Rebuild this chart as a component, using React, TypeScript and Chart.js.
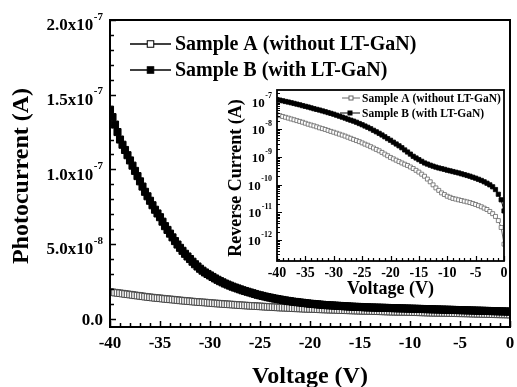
import React, { useEffect, useRef } from "react";
import { Chart, registerables } from "chart.js";

Chart.register(...registerables);

// ---------------- data ----------------
// Main plot voltage (0.25 V steps)
const mainVoltage = [
  -40, -39.75, -39.5, -39.25, -39, -38.75, -38.5, -38.25, -38, -37.75, -37.5, -37.25,
  -37, -36.75, -36.5, -36.25, -36, -35.75, -35.5, -35.25, -35, -34.75, -34.5, -34.25,
  -34, -33.75, -33.5, -33.25, -33, -32.75, -32.5, -32.25, -32, -31.75, -31.5, -31.25,
  -31, -30.75, -30.5, -30.25, -30, -29.75, -29.5, -29.25, -29, -28.75, -28.5, -28.25,
  -28, -27.75, -27.5, -27.25, -27, -26.75, -26.5, -26.25, -26, -25.75, -25.5, -25.25,
  -25, -24.75, -24.5, -24.25, -24, -23.75, -23.5, -23.25, -23, -22.75, -22.5, -22.25,
  -22, -21.75, -21.5, -21.25, -21, -20.75, -20.5, -20.25, -20, -19.75, -19.5, -19.25,
  -19, -18.75, -18.5, -18.25, -18, -17.75, -17.5, -17.25, -17, -16.75, -16.5, -16.25,
  -16, -15.75, -15.5, -15.25, -15, -14.75, -14.5, -14.25, -14, -13.75, -13.5, -13.25,
  -13, -12.75, -12.5, -12.25, -12, -11.75, -11.5, -11.25, -11, -10.75, -10.5, -10.25,
  -10, -9.75, -9.5, -9.25, -9, -8.75, -8.5, -8.25, -8, -7.75, -7.5, -7.25,
  -7, -6.75, -6.5, -6.25, -6, -5.75, -5.5, -5.25, -5, -4.75, -4.5, -4.25,
  -4, -3.75, -3.5, -3.25, -3, -2.75, -2.5, -2.25, -2, -1.75, -1.5, -1.25,
  -1, -0.75, -0.5, -0.25, 0,
];

// Photocurrent (A), main plot
const photoA = [
  1.80e-8, 1.775e-8, 1.75e-8, 1.73e-8, 1.71e-8, 1.685e-8, 1.66e-8, 1.64e-8,
  1.62e-8, 1.595e-8, 1.57e-8, 1.55e-8, 1.53e-8, 1.505e-8, 1.48e-8, 1.46e-8,
  1.44e-8, 1.42e-8, 1.40e-8, 1.385e-8, 1.37e-8, 1.35e-8, 1.33e-8, 1.315e-8,
  1.30e-8, 1.285e-8, 1.27e-8, 1.25e-8, 1.23e-8, 1.215e-8, 1.20e-8, 1.185e-8,
  1.17e-8, 1.155e-8, 1.14e-8, 1.125e-8, 1.11e-8, 1.10e-8, 1.09e-8, 1.075e-8,
  1.06e-8, 1.045e-8, 1.03e-8, 1.02e-8, 1.01e-8, 0.995e-8, 0.98e-8, 0.97e-8,
  0.96e-8, 0.95e-8, 0.94e-8, 0.925e-8, 0.91e-8, 0.90e-8, 0.89e-8, 0.88e-8,
  0.87e-8, 0.86e-8, 0.85e-8, 0.84e-8, 0.83e-8, 0.82e-8, 0.81e-8, 0.80e-8,
  0.79e-8, 0.78e-8, 0.77e-8, 0.76e-8, 0.75e-8, 0.745e-8, 0.74e-8, 0.73e-8,
  0.72e-8, 0.71e-8, 0.70e-8, 0.695e-8, 0.69e-8, 0.68e-8, 0.67e-8, 0.665e-8,
  0.66e-8, 0.655e-8, 0.65e-8, 0.64e-8, 0.63e-8, 0.625e-8, 0.62e-8, 0.615e-8,
  0.61e-8, 0.605e-8, 0.60e-8, 0.59e-8, 0.58e-8, 0.575e-8, 0.57e-8, 0.565e-8,
  0.56e-8, 0.555e-8, 0.55e-8, 0.545e-8, 0.54e-8, 0.535e-8, 0.53e-8, 0.525e-8,
  0.52e-8, 0.515e-8, 0.51e-8, 0.505e-8, 0.50e-8, 0.495e-8, 0.49e-8, 0.485e-8,
  0.48e-8, 0.475e-8, 0.47e-8, 0.467e-8, 0.465e-8, 0.462e-8, 0.46e-8, 0.455e-8,
  0.45e-8, 0.445e-8, 0.44e-8, 0.435e-8, 0.43e-8, 0.425e-8, 0.42e-8, 0.415e-8,
  0.41e-8, 0.405e-8, 0.40e-8, 0.397e-8, 0.395e-8, 0.392e-8, 0.39e-8, 0.385e-8,
  0.38e-8, 0.375e-8, 0.37e-8, 0.367e-8, 0.365e-8, 0.362e-8, 0.36e-8, 0.355e-8,
  0.35e-8, 0.345e-8, 0.34e-8, 0.335e-8, 0.33e-8, 0.325e-8, 0.32e-8, 0.315e-8,
  0.31e-8, 0.305e-8, 0.30e-8, 0.297e-8, 0.295e-8, 0.292e-8, 0.29e-8, 0.285e-8,
  0.28e-8,
];
const photoB = [
  14.0e-8, 13.5e-8, 13.0e-8, 12.5e-8, 12.0e-8, 11.65e-8, 11.3e-8, 10.95e-8,
  10.6e-8, 10.25e-8, 9.9e-8, 9.55e-8, 9.2e-8, 8.85e-8, 8.5e-8, 8.2e-8,
  7.9e-8, 7.6e-8, 7.3e-8, 7.05e-8, 6.8e-8, 6.5e-8, 6.2e-8, 5.95e-8,
  5.7e-8, 5.45e-8, 5.2e-8, 4.97e-8, 4.75e-8, 4.55e-8, 4.35e-8, 4.17e-8,
  4.0e-8, 3.82e-8, 3.65e-8, 3.5e-8, 3.35e-8, 3.22e-8, 3.1e-8, 3.0e-8,
  2.9e-8, 2.8e-8, 2.7e-8, 2.61e-8, 2.52e-8, 2.44e-8, 2.36e-8, 2.29e-8,
  2.22e-8, 2.15e-8, 2.09e-8, 2.03e-8, 1.97e-8, 1.91e-8, 1.86e-8, 1.81e-8,
  1.76e-8, 1.71e-8, 1.66e-8, 1.61e-8, 1.57e-8, 1.53e-8, 1.49e-8, 1.45e-8,
  1.42e-8, 1.38e-8, 1.35e-8, 1.32e-8, 1.29e-8, 1.26e-8, 1.23e-8, 1.20e-8,
  1.18e-8, 1.15e-8, 1.13e-8, 1.11e-8, 1.09e-8, 1.07e-8, 1.05e-8, 1.03e-8,
  1.01e-8, 0.995e-8, 0.98e-8, 0.965e-8, 0.95e-8, 0.935e-8, 0.92e-8, 0.91e-8,
  0.90e-8, 0.89e-8, 0.88e-8, 0.87e-8, 0.86e-8, 0.85e-8, 0.84e-8, 0.83e-8,
  0.82e-8, 0.81e-8, 0.80e-8, 0.795e-8, 0.79e-8, 0.78e-8, 0.77e-8, 0.765e-8,
  0.76e-8, 0.755e-8, 0.75e-8, 0.745e-8, 0.74e-8, 0.735e-8, 0.73e-8, 0.725e-8,
  0.72e-8, 0.715e-8, 0.71e-8, 0.705e-8, 0.70e-8, 0.695e-8, 0.69e-8, 0.685e-8,
  0.68e-8, 0.675e-8, 0.67e-8, 0.665e-8, 0.66e-8, 0.655e-8, 0.65e-8, 0.645e-8,
  0.64e-8, 0.635e-8, 0.63e-8, 0.625e-8, 0.62e-8, 0.615e-8, 0.61e-8, 0.605e-8,
  0.60e-8, 0.595e-8, 0.59e-8, 0.585e-8, 0.58e-8, 0.575e-8, 0.57e-8, 0.565e-8,
  0.56e-8, 0.555e-8, 0.55e-8, 0.545e-8, 0.54e-8, 0.535e-8, 0.53e-8, 0.525e-8,
  0.52e-8, 0.515e-8, 0.51e-8, 0.505e-8, 0.50e-8, 0.495e-8, 0.49e-8, 0.485e-8,
  0.48e-8,
];

// Inset voltage (0.5 V steps)
const insetVoltage = [
  -40, -39.5, -39, -38.5, -38, -37.5, -37, -36.5, -36, -35.5,
  -35, -34.5, -34, -33.5, -33, -32.5, -32, -31.5, -31, -30.5,
  -30, -29.5, -29, -28.5, -28, -27.5, -27, -26.5, -26, -25.5,
  -25, -24.5, -24, -23.5, -23, -22.5, -22, -21.5, -21, -20.5,
  -20, -19.5, -19, -18.5, -18, -17.5, -17, -16.5, -16, -15.5,
  -15, -14.5, -14, -13.5, -13, -12.5, -12, -11.5, -11, -10.5,
  -10, -9.5, -9, -8.5, -8, -7.5, -7, -6.5, -6, -5.5,
  -5, -4.5, -4, -3.5, -3, -2.5, -2, -1.5, -1, -0.5, 0,
];

// Reverse current (A), inset
const darkA = [
  3.31e-8, 3.09e-8, 2.88e-8, 2.69e-8, 2.51e-8, 2.34e-8, 2.19e-8, 2.04e-8, 1.91e-8, 1.78e-8,
  1.64e-8, 1.51e-8, 1.41e-8, 1.32e-8, 1.22e-8, 1.12e-8, 1.05e-8, 9.77e-9, 9.02e-9, 8.32e-9,
  7.76e-9, 7.16e-9, 6.61e-9, 6.10e-9, 5.62e-9, 5.13e-9, 4.68e-9, 4.27e-9, 3.89e-9, 3.55e-9,
  3.20e-9, 2.88e-9, 2.63e-9, 2.34e-9, 2.09e-9, 1.86e-9, 1.66e-9, 1.45e-9, 1.26e-9, 1.10e-9,
  9.55e-10, 8.51e-10, 7.59e-10, 6.76e-10, 6.03e-10, 5.43e-10, 4.90e-10, 4.32e-10, 3.80e-10, 3.27e-10,
  2.82e-10, 2.37e-10, 2.00e-10, 1.58e-10, 1.26e-10, 9.77e-11, 7.59e-11, 6.17e-11, 5.01e-11, 4.37e-11,
  3.80e-11, 3.47e-11, 3.16e-11, 2.99e-11, 2.82e-11, 2.66e-11, 2.51e-11, 2.37e-11, 2.24e-11, 2.07e-11,
  1.91e-11, 1.74e-11, 1.58e-11, 1.41e-11, 1.26e-11, 1.07e-11, 8.91e-12, 7.08e-12, 5.01e-12, 2.82e-12, 7.08e-13,
];
const darkB = [
  1.17e-7, 1.12e-7, 1.06e-7, 1.00e-7, 9.55e-8, 9.02e-8, 8.51e-8, 8.04e-8, 7.59e-8, 7.08e-8,
  6.68e-8, 6.31e-8, 5.89e-8, 5.50e-8, 5.19e-8, 4.90e-8, 4.57e-8, 4.27e-8, 3.98e-8, 3.72e-8,
  3.47e-8, 3.20e-8, 2.95e-8, 2.72e-8, 2.51e-8, 2.29e-8, 2.11e-8, 1.95e-8, 1.78e-8, 1.60e-8,
  1.45e-8, 1.30e-8, 1.17e-8, 1.04e-8, 9.12e-9, 8.04e-9, 7.08e-9, 6.17e-9, 5.31e-9, 4.57e-9,
  3.98e-9, 3.39e-9, 2.92e-9, 2.51e-9, 2.14e-9, 1.78e-9, 1.50e-9, 1.26e-9, 1.05e-9, 9.12e-10,
  7.94e-10, 6.92e-10, 6.03e-10, 5.50e-10, 5.01e-10, 4.62e-10, 4.27e-10, 3.98e-10, 3.76e-10, 3.55e-10,
  3.31e-10, 3.13e-10, 2.95e-10, 2.79e-10, 2.63e-10, 2.45e-10, 2.29e-10, 2.14e-10, 2.00e-10, 1.84e-10,
  1.70e-10, 1.55e-10, 1.41e-10, 1.26e-10, 1.12e-10, 9.77e-11, 8.32e-11, 6.61e-11, 4.47e-11, 2.82e-11, 1.12e-11,
];

const seriesNames = ["Sample A (without LT-GaN)", "Sample B (with LT-GaN)"];

const mainXTicks = [-40, -35, -30, -25, -20, -15, -10, -5, 0];
const mainXTickLabels = ["-40", "-35", "-30", "-25", "-20", "-15", "-10", "-5", "0"];
const mainYTicks = [0, 5e-8, 1e-7, 1.5e-7, 2e-7];
const mainYTickBase = ["0.0", "5.0x10", "1.0x10", "1.5x10", "2.0x10"];
const mainYTickExp = ["", "-8", "-7", "-7", "-7"];

const insetXTicks = [-40, -35, -30, -25, -20, -15, -10, -5, 0];
const insetXTickLabels = ["-40", "-35", "-30", "-25", "-20", "-15", "-10", "-5", "0"];
const insetYTicks = [1e-12, 1e-11, 1e-10, 1e-9, 1e-8, 1e-7];
const insetYTickExp = ["-12", "-11", "-10", "-9", "-8", "-7"];

const SERIF = '"Liberation Serif", "Times New Roman", serif';

// ---------------- helpers ----------------
function pts(xs: number[], ys: number[]) {
  return xs.map((x, i) => ({ x, y: ys[i] }));
}

function drawSci(
  ctx: CanvasRenderingContext2D,
  base: string,
  sup: string,
  xRight: number,
  baseline: number,
  baseFont: string,
  supFont: string,
  rise: number
) {
  ctx.font = baseFont;
  const wb = ctx.measureText(base).width;
  ctx.font = supFont;
  const ws = sup ? ctx.measureText(sup).width + 0.5 : 0;
  const x0 = xRight - wb - ws;
  ctx.textAlign = "left";
  ctx.textBaseline = "alphabetic";
  ctx.font = baseFont;
  ctx.fillText(base, x0, baseline);
  if (sup) {
    ctx.font = supFont;
    ctx.fillText(sup, x0 + wb + 0.5, baseline - rise);
  }
}

function drawLegendRow(
  ctx: CanvasRenderingContext2D,
  y: number,
  x1: number,
  x2: number,
  sq: number,
  filled: boolean,
  text: string,
  tx: number,
  font: string,
  lineColor: string,
  lw: number
) {
  ctx.strokeStyle = lineColor;
  ctx.lineWidth = lw;
  ctx.beginPath();
  ctx.moveTo(x1, y);
  ctx.lineTo(x2, y);
  ctx.stroke();
  const cx = (x1 + x2) / 2;
  ctx.fillStyle = filled ? "#000" : "#fff";
  ctx.fillRect(cx - sq / 2, y - sq / 2, sq, sq);
  ctx.strokeStyle = filled ? "#000" : lineColor;
  ctx.lineWidth = 1;
  ctx.strokeRect(cx - sq / 2, y - sq / 2, sq, sq);
  ctx.fillStyle = "#000";
  ctx.font = font;
  ctx.textAlign = "left";
  ctx.textBaseline = "middle";
  ctx.fillText(text, tx, y + 1);
}

// ---------------- main chart decorations ----------------
const mainDecor = {
  id: "mainDecor",
  afterDraw(chart: any) {
    const ctx: CanvasRenderingContext2D = chart.ctx;
    const { left, right, top, bottom } = chart.chartArea;
    const xs = chart.scales.x;
    const ys = chart.scales.y;
    ctx.save();
    ctx.strokeStyle = "#000";
    ctx.lineWidth = 1.5;
    ctx.beginPath();
    for (let v = -40; v <= 0; v += 1) {
      const px = Math.round(xs.getPixelForValue(v)) + 0.5;
      const len = v % 5 === 0 ? 6 : 4;
      ctx.moveTo(px, bottom);
      ctx.lineTo(px, bottom - len);
    }
    for (let k = 0; k <= 20; k++) {
      const py = Math.round(ys.getPixelForValue(k * 1e-8)) + 0.5;
      const len = k % 5 === 0 ? 6 : 4;
      ctx.moveTo(left, py);
      ctx.lineTo(left + len, py);
    }
    ctx.stroke();
    ctx.lineWidth = 2;
    ctx.strokeRect(left, top, right - left, bottom - top);

    ctx.fillStyle = "#000";
    const tf = `bold 17px ${SERIF}`;
    const sf = `bold 11px ${SERIF}`;
    ctx.font = tf;
    ctx.textAlign = "center";
    ctx.textBaseline = "alphabetic";
    mainXTicks.forEach((v, i) => {
      ctx.fillText(mainXTickLabels[i], xs.getPixelForValue(v), 348);
    });
    mainYTicks.forEach((v, i) => {
      const py = ys.getPixelForValue(v);
      if (mainYTickExp[i]) {
        drawSci(ctx, mainYTickBase[i], mainYTickExp[i], 103, py + 10.3, tf, sf, 10.8);
      } else {
        drawSci(ctx, mainYTickBase[i], "", 103, py + 6, tf, sf, 0);
      }
    });

    ctx.font = `bold 24px ${SERIF}`;
    ctx.textAlign = "center";
    ctx.textBaseline = "middle";
    ctx.fillText("Voltage (V)", (left + right) / 2, 377);
    ctx.save();
    ctx.translate(22, 176);
    ctx.rotate(-Math.PI / 2);
    ctx.fillText("Photocurrent (A)", 0, 0);
    ctx.restore();

    const lf = `bold 20px ${SERIF}`;
    drawLegendRow(ctx, 44, 130, 171, 6.5, false, seriesNames[0], 175, lf, "#000", 1.5);
    drawLegendRow(ctx, 70, 130, 171, 6.5, true, seriesNames[1], 175, lf, "#000", 1.5);
    ctx.restore();
  },
};

// ---------------- inset decorations ----------------
const insetDecor = {
  id: "insetDecor",
  afterDraw(chart: any) {
    const ctx: CanvasRenderingContext2D = chart.ctx;
    const { left, right, top, bottom } = chart.chartArea;
    const xs = chart.scales.x;
    const ys = chart.scales.y;
    ctx.save();
    ctx.strokeStyle = "#000";
    ctx.lineWidth = 1.2;
    ctx.beginPath();
    for (let v = -40; v <= 0; v += 1) {
      const px = Math.round(xs.getPixelForValue(v)) + 0.5;
      const len = v % 5 === 0 ? 5 : 3;
      ctx.moveTo(px, bottom);
      ctx.lineTo(px, bottom - len);
    }
    const ymin = ys.min;
    const ymax = ys.max;
    for (let e = -13; e <= -7; e++) {
      for (let m = 1; m <= 9; m++) {
        const v = m * Math.pow(10, e);
        if (v < ymin || v > ymax) continue;
        const py = Math.round(ys.getPixelForValue(v)) + 0.5;
        const len = m === 1 ? 5 : 3;
        ctx.moveTo(left, py);
        ctx.lineTo(left + len, py);
      }
    }
    ctx.stroke();
    ctx.lineWidth = 1.8;
    ctx.strokeRect(left, top, right - left, bottom - top);

    ctx.fillStyle = "#000";
    const xf = `bold 14px ${SERIF}`;
    ctx.font = xf;
    ctx.textAlign = "center";
    ctx.textBaseline = "alphabetic";
    insetXTicks.forEach((v, i) => {
      ctx.fillText(insetXTickLabels[i], xs.getPixelForValue(v), 197);
    });
    const yf = `bold 13px ${SERIF}`;
    const sf = `bold 8px ${SERIF}`;
    insetYTicks.forEach((v, i) => {
      const py = ys.getPixelForValue(v);
      drawSci(ctx, "10", insetYTickExp[i], left - 5, py + 5.2, yf, sf, 8.5);
    });

    ctx.font = `bold 18px ${SERIF}`;
    ctx.textAlign = "center";
    ctx.textBaseline = "middle";
    ctx.fillText("Voltage (V)", (left + right) / 2, 209);
    ctx.save();
    ctx.translate(16, 98);
    ctx.rotate(-Math.PI / 2);
    ctx.fillText("Reverse Current (A)", 0, 0);
    ctx.restore();

    const lf = `bold 11.5px ${SERIF}`;
    drawLegendRow(ctx, 18, 122, 140, 4, false, seriesNames[0], 142, lf, "#666", 1);
    drawLegendRow(ctx, 33, 120, 140, 4, true, seriesNames[1], 142, lf, "#000", 1);
    ctx.restore();
  },
};

export default function App() {
  const mainRef = useRef<HTMLCanvasElement>(null);
  const insetRef = useRef<HTMLCanvasElement>(null);

  useEffect(() => {
    const main = new Chart(mainRef.current as HTMLCanvasElement, {
      type: "line",
      data: {
        datasets: [
          {
            label: seriesNames[0],
            data: pts(mainVoltage, photoA),
            borderColor: "#000",
            borderWidth: 1,
            pointStyle: "rect",
            pointRadius: 4.6,
            pointBackgroundColor: "#fff",
            pointBorderColor: "#444",
            pointBorderWidth: 1,
            order: 1,
          },
          {
            label: seriesNames[1],
            data: pts(mainVoltage, photoB),
            borderColor: "#000",
            borderWidth: 1,
            pointStyle: "rect",
            pointRadius: 5.0,
            pointBackgroundColor: "#000",
            pointBorderColor: "#000",
            pointBorderWidth: 1,
            order: 0,
          },
        ],
      },
      options: {
        animation: false,
        responsive: false,
        devicePixelRatio: 1,
        layout: { padding: { left: 110, right: 7, top: 20, bottom: 60 } },
        plugins: { legend: { display: false }, tooltip: { enabled: false }, title: { display: false } },
        scales: {
          x: { type: "linear", min: -40, max: 0, display: false },
          y: { type: "linear", min: -5.5e-9, max: 2.0e-7, display: false },
        },
      },
      plugins: [mainDecor],
    } as any);

    const inset = new Chart(insetRef.current as HTMLCanvasElement, {
      type: "line",
      data: {
        datasets: [
          {
            label: seriesNames[0],
            data: pts(insetVoltage, darkA),
            borderColor: "#666",
            borderWidth: 1,
            pointStyle: "rect",
            pointRadius: 2.8,
            pointBackgroundColor: "#fff",
            pointBorderColor: "#666",
            pointBorderWidth: 0.8,
            order: 1,
          },
          {
            label: seriesNames[1],
            data: pts(insetVoltage, darkB),
            borderColor: "#000",
            borderWidth: 1,
            pointStyle: "rect",
            pointRadius: 3.0,
            pointBackgroundColor: "#000",
            pointBorderColor: "#000",
            pointBorderWidth: 0.8,
            order: 0,
          },
        ],
      },
      options: {
        animation: false,
        responsive: false,
        devicePixelRatio: 1,
        layout: { padding: { left: 57, right: 13, top: 10, bottom: 49 } },
        plugins: { legend: { display: false }, tooltip: { enabled: false }, title: { display: false } },
        scales: {
          x: { type: "linear", min: -40, max: 0, display: false },
          y: { type: "logarithmic", min: 1.74e-13, max: 2.6e-7, display: false },
        },
      },
      plugins: [insetDecor],
    } as any);

    return () => {
      main.destroy();
      inset.destroy();
    };
  }, []);

  return (
    <div style={{ position: "fixed", left: 0, top: 0, width: 517, height: 387, background: "#fff" }}>
      <canvas
        ref={mainRef}
        width={517}
        height={387}
        style={{ position: "absolute", left: 0, top: 0, width: 517, height: 387 }}
      />
      <canvas
        ref={insetRef}
        width={297}
        height={230}
        style={{ position: "absolute", left: 220, top: 80, width: 297, height: 230 }}
      />
    </div>
  );
}
